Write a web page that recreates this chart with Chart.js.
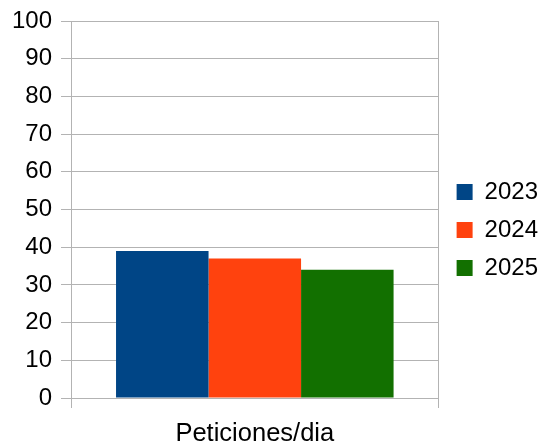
<!DOCTYPE html>
<html><head><meta charset="utf-8">
<script src="https://cdn.jsdelivr.net/npm/chart.js@4/dist/chart.umd.min.js"></script>
<style>html,body{margin:0;padding:0;background:#fff}#wrap{width:544px;height:443px}</style>
</head><body><div id="wrap"><canvas id="c" width="544" height="443"></canvas></div>
<script>
const categories = ["Peticiones/dia"];
const seriesNames = ["2023", "2024", "2025"];
const values2023 = [39];
const values2024 = [37];
const values2025 = [34];
const colors = ["#004586", "#ff420e", "#127000"];
const yTicks = [0,10,20,30,40,50,60,70,80,90,100];

const grid = "#b3b3b3";
const font = {family: "'Liberation Sans', Arial, sans-serif", size: 24};
const xFont = {family: "'Liberation Sans', Arial, sans-serif", size: 25.5};
const yFont = {family: "'Liberation Sans', Arial, sans-serif", size: 24, lineHeight: 1.0};
const legendShift = {
  id: 'legendShift',
  afterLayout(chart) {
    const l = chart.legend;
    if (l) { l.left += 4; l.right += 4; l.top -= 2; l.bottom -= 2; }
  }
};
new Chart(document.getElementById('c'), {
  type: 'bar',
  data: {
    labels: categories,
    datasets: [values2023, values2024, values2025].map((v,i)=>({
      label: seriesNames[i], data: v, backgroundColor: colors[i], borderWidth: 0,
      categoryPercentage: 0.755, barPercentage: 1
    }))
  },
  plugins: [legendShift],
  options: {
    responsive: false, animation: false,
    layout: {padding: {left: 0, top: 21, right: 0, bottom: 0}},
    plugins: {
      tooltip: {enabled: false},
      legend: {position: 'right', align: 'center',
        labels: {boxWidth: 16, boxHeight: 16, padding: 14, color: '#000', font: font}}
    },
    scales: {
      x: {
        grid: {color: grid, tickLength: 10, offset: true},
        border: {color: grid},
        ticks: {color: '#000', font: xFont, padding: 11},
        afterFit: s => { s.height = 45; }
      },
      y: {
        min: 0, max: 100,
        afterBuildTicks: s => { s.ticks = yTicks.map(v=>({value:v})); },
        grid: {color: grid, tickLength: 10},
        border: {color: grid},
        ticks: {color: '#000', font: yFont, padding: 9},
        afterFit: s => { s.width = 71; }
      }
    }
  }
});
</script></body></html>
